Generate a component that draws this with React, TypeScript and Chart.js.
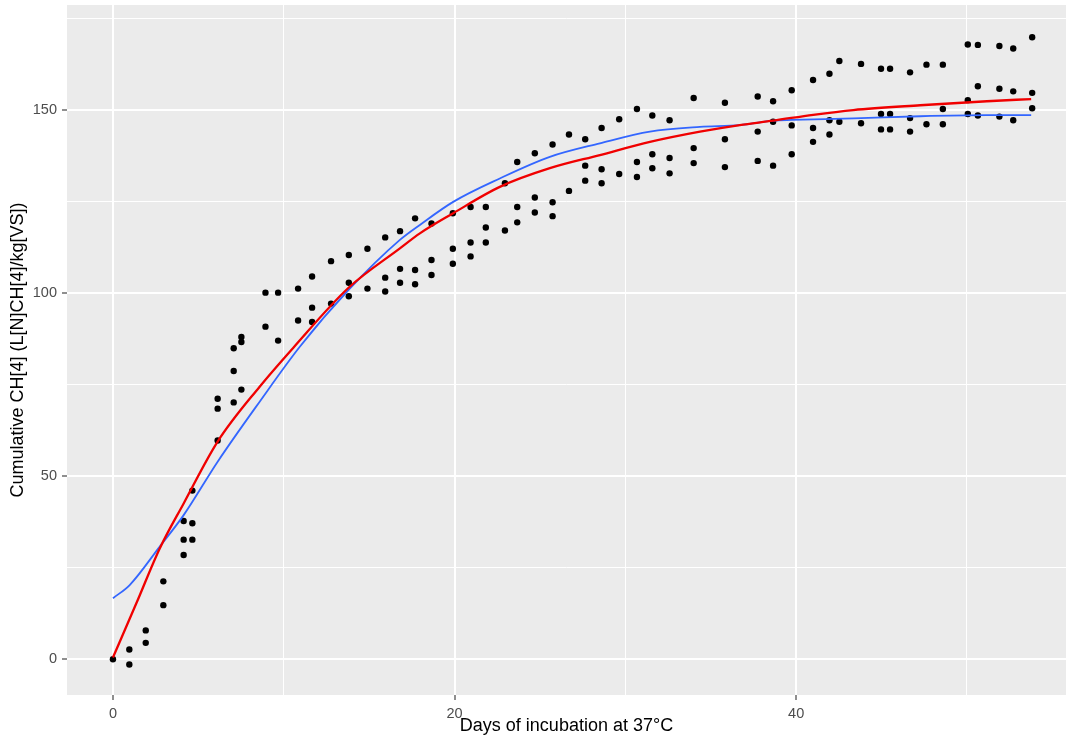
import React, { useEffect, useRef } from 'react';
import { Chart, registerables } from 'chart.js';

Chart.register(...registerables);

// Observed cumulative CH4 (days, value)
const obsDay = [
  0,
  0.96, 0.96,
  1.92, 1.92,
  2.95, 2.95,
  4.14, 4.14, 4.14,
  4.65, 4.65, 4.65,
  6.13, 6.13, 6.13,
  7.07, 7.07, 7.07,
  7.52, 7.52, 7.52,
  8.93, 8.93,
  9.67, 9.67,
  10.84, 10.84,
  11.66, 11.66, 11.66,
  12.77, 12.77,
  13.81, 13.81, 13.81,
  14.9, 14.9,
  15.94, 15.94, 15.94,
  16.81, 16.81, 16.81,
  17.69, 17.69, 17.69,
  18.65, 18.65, 18.65,
  19.9, 19.9, 19.9,
  20.94, 20.94, 20.94,
  21.83, 21.83, 21.83,
  22.95, 22.95,
  23.67, 23.67, 23.67,
  24.7, 24.7, 24.7,
  25.74, 25.74, 25.74,
  26.7, 26.7,
  27.65, 27.65, 27.65,
  28.61, 28.61, 28.61,
  29.64, 29.64,
  30.68, 30.68, 30.68,
  31.58, 31.58, 31.58,
  32.59, 32.59, 32.59,
  34.0, 34.0, 34.0,
  35.83, 35.83, 35.83,
  37.75, 37.75, 37.75,
  38.65, 38.65, 38.65,
  39.74, 39.74, 39.74,
  40.99, 40.99, 40.99,
  41.95, 41.95, 41.95,
  42.53, 42.53,
  43.8, 43.8,
  44.97, 44.97, 44.97,
  45.5, 45.5, 45.5,
  46.67, 46.67, 46.67,
  47.63, 47.63,
  48.59, 48.59, 48.59,
  50.05, 50.05, 50.05,
  50.64, 50.64, 50.64,
  51.9, 51.9, 51.9,
  52.71, 52.71, 52.71,
  53.82, 53.82, 53.82,
];
const obsCH4 = [
  0,
  2.7, -1.4,
  7.9, 4.5,
  21.3, 14.8,
  37.8, 32.7, 28.5,
  46.1, 37.2, 32.7,
  59.8, 68.5, 71.2,
  70.2, 78.8, 85.0,
  73.7, 86.7, 88.1,
  100.2, 90.9,
  100.2, 87.1,
  101.3, 92.6,
  104.6, 96.1, 92.2,
  108.8, 97.2,
  110.5, 102.9, 99.2,
  112.2, 101.3,
  115.3, 104.3, 100.5,
  117.0, 106.7, 102.9,
  120.5, 106.4, 102.5,
  119.1, 109.1, 105.0,
  121.9, 112.2, 108.1,
  123.6, 113.9, 110.1,
  123.6, 118.0, 113.9,
  130.1, 117.2,
  135.9, 123.6, 119.4,
  138.3, 126.2, 122.1,
  140.7, 124.9, 121.1,
  143.4, 128.0,
  142.1, 134.9, 130.8,
  145.2, 133.9, 130.1,
  147.6, 132.6,
  150.4, 135.9, 131.8,
  148.6, 138.0, 134.2,
  147.3, 137.0, 132.8,
  153.4, 139.7, 135.6,
  152.1, 142.1, 134.5,
  153.8, 144.2, 136.2,
  152.5, 146.9, 134.9,
  155.5, 145.9, 138.0,
  158.3, 145.2, 141.4,
  160.0, 147.3, 143.4,
  163.5, 146.9,
  162.7, 146.5,
  161.4, 149.0, 144.8,
  161.4, 149.0, 144.8,
  160.4, 147.9, 144.2,
  162.5, 146.2,
  162.5, 150.4, 146.2,
  168.0, 152.8, 149.0,
  167.9, 156.6, 148.6,
  167.6, 155.9, 148.3,
  166.9, 155.2, 147.3,
  170.0, 154.8, 150.6,
];

// Red fitted curve
const redDay = [0, 1.37, 2.74, 4.14, 6.13, 8.59, 10.55, 13.81, 16.8, 17.97, 19.92, 22.65, 25.58, 28.51, 31.44, 34.37, 36.7, 38.66, 41, 43.35, 47.26, 51.17, 53.76];
const redCH4 = [0.5, 15.3, 30.3, 42.6, 59.5, 74.5, 85.1, 101.6, 112.3, 116.4, 121.9, 129.1, 134.2, 137.8, 141.4, 144.2, 146.0, 147.2, 148.8, 150.1, 151.4, 152.5, 153.1];

// Blue smoothed curve
const blueDay = [0, 0.98, 2.74, 4.14, 6.13, 8.59, 10.94, 13.81, 16.8, 17.97, 19.92, 22.65, 25.58, 28.51, 31.44, 34.37, 36.7, 38.66, 39.74, 43.35, 47.26, 51.17, 53.76];
const blueCH4 = [16.7, 20.3, 30.8, 39.4, 54.0, 70.4, 85.4, 101.0, 114.6, 118.7, 125.0, 131.4, 137.3, 141.0, 144.2, 145.5, 146.0, 147.2, 147.4, 147.8, 148.4, 148.7, 148.7];

const xMajorTicks = [0, 20, 40];
const xMinorTicks = [10, 30, 50];
const yMajorTicks = [0, 50, 100, 150];
const yMinorTicks = [25, 75, 125, 175];

const xTitle = 'Days of incubation at 37°C';
const yTitle = 'Cumulative CH[4] (L[N]CH[4]/kg[VS])';

const FONT = "'Liberation Sans', Arial, sans-serif";

const panelBg = {
  id: 'panelBg',
  beforeDraw(chart: any) {
    const { ctx, chartArea } = chart;
    const { left, top, right, bottom } = chartArea;
    ctx.save();
    ctx.fillStyle = '#EBEBEB';
    ctx.fillRect(left, top, right - left, bottom - top);
    ctx.restore();
  },
};

export default function App() {
  const ref = useRef<HTMLCanvasElement | null>(null);

  useEffect(() => {
    document.body.style.margin = '0';
    const canvas = ref.current;
    if (!canvas) return;

    const pts = obsDay.map((d, i) => ({ x: d, y: obsCH4[i] }));
    const red = redDay.map((d, i) => ({ x: d, y: redCH4[i] }));
    const blue = blueDay.map((d, i) => ({ x: d, y: blueCH4[i] }));

    const xAll = [...xMajorTicks, ...xMinorTicks].sort((a, b) => a - b);
    const yAll = [...yMajorTicks, ...yMinorTicks].sort((a, b) => a - b);

    const chart = new Chart(canvas, {
      type: 'scatter',
      data: {
        datasets: [
          {
            label: 'fit',
            data: red,
            showLine: true,
            borderColor: '#F00000',
            borderWidth: 2.3,
            pointRadius: 0,
            cubicInterpolationMode: 'monotone',
            fill: false,
          },
          {
            label: 'smooth',
            data: blue,
            showLine: true,
            borderColor: '#3366FF',
            borderWidth: 1.8,
            pointRadius: 0,
            cubicInterpolationMode: 'monotone',
            fill: false,
          },
          {
            label: 'obs',
            data: pts,
            showLine: false,
            pointRadius: 3.2,
            pointBackgroundColor: '#000000',
            pointBorderWidth: 0,
            pointBorderColor: '#000000',
          },
        ],
      } as any,
      options: {
        animation: false,
        responsive: false,
        maintainAspectRatio: false,
        layout: { autoPadding: false, padding: { top: 5, left: 0, right: 0, bottom: 0 } },
        plugins: {
          legend: { display: false },
          tooltip: { enabled: false },
        },
        scales: {
          x: {
            type: 'linear',
            min: -2.69,
            max: 55.8,
            afterBuildTicks: (s: any) => {
              s.ticks = xAll.map((v) => ({ value: v }));
            },
            afterFit: (s: any) => {
              s.height = 50;
              s.paddingLeft = 0;
              s.paddingRight = 0;
            },
            border: { display: false },
            grid: {
              color: '#FFFFFF',
              lineWidth: (c: any) => (xMajorTicks.includes(c.tick?.value) ? 2 : 1),
              drawTicks: true,
              tickLength: 5,
              tickWidth: 1.1,
              tickColor: (c: any) => (xMajorTicks.includes(c.tick?.value) ? '#333333' : 'rgba(0,0,0,0)'),
            },
            ticks: {
              autoSkip: false,
              maxRotation: 0,
              padding: 5,
              color: '#4D4D4D',
              font: { family: FONT, size: 14.5 },
              callback: (v: any) => (xMajorTicks.includes(Number(v)) ? String(v) : ''),
            },
            title: {
              display: true,
              text: xTitle,
              color: '#000000',
              font: { family: FONT, size: 18 },
              padding: { top: 0, bottom: 8 },
            },
          },
          y: {
            type: 'linear',
            min: -9.75,
            max: 178.8,
            afterBuildTicks: (s: any) => {
              s.ticks = yAll.map((v) => ({ value: v }));
            },
            afterFit: (s: any) => {
              s.width = 67;
              s.paddingTop = 0;
              s.paddingBottom = 0;
            },
            border: { display: false },
            grid: {
              color: '#FFFFFF',
              lineWidth: (c: any) => (yMajorTicks.includes(c.tick?.value) ? 2 : 1),
              drawTicks: true,
              tickLength: 5,
              tickWidth: 1.1,
              tickColor: (c: any) => (yMajorTicks.includes(c.tick?.value) ? '#333333' : 'rgba(0,0,0,0)'),
            },
            ticks: {
              autoSkip: false,
              padding: 5,
              color: '#4D4D4D',
              font: { family: FONT, size: 14.5 },
              callback: (v: any) => (yMajorTicks.includes(Number(v)) ? String(v) : ''),
            },
            title: {
              display: true,
              text: yTitle,
              color: '#000000',
              font: { family: FONT, size: 18 },
              padding: { top: 7, bottom: 0 },
            },
          },
        },
      } as any,
      plugins: [panelBg],
    });

    return () => {
      chart.destroy();
    };
  }, []);

  return (
    <div style={{ width: 1066, height: 745 }}>
      <canvas ref={ref} width={1066} height={745} style={{ display: 'block' }} />
    </div>
  );
}
